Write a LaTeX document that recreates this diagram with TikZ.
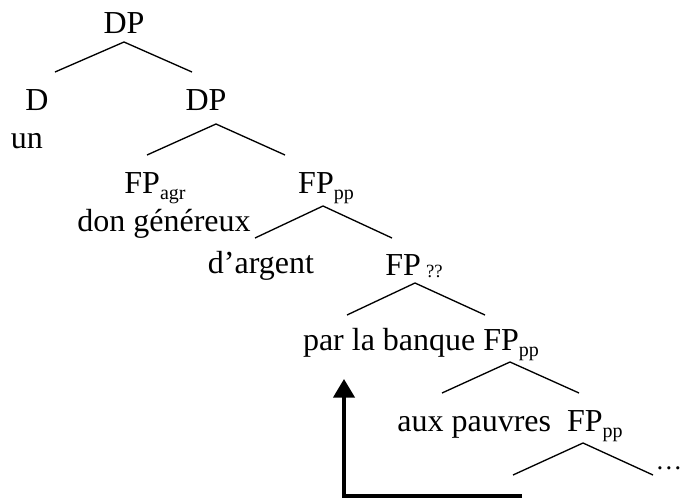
\documentclass[tikz,border=0pt]{standalone}
\usepackage{fontspec}
\setmainfont{Liberation Serif}
\usetikzlibrary{arrows.meta}

\newcommand{\fsub}[1]{\raisebox{-5pt}{\fontsize{15}{15}\selectfont #1}}

\begin{document}
\begin{tikzpicture}[x=0.75pt,y=-0.75pt,line width=1pt,
    word/.style={anchor=base,inner sep=0pt,font=\fontsize{24}{28}\selectfont},
    move/.style={line width=2.4pt,-{Triangle[width=16pt,length=14pt]}}]
    \useasboundingbox (0,0) rectangle (681,500);

    % labels
    \node[word] (dp1) at (124,33) {DP};
    \node[word] (d) at (37,110) {D};
    \node[word] (dp2) at (206,110) {DP};
    \node[word] (un) at (27,148) {un};
    \node[word] (agr) at (155,193) {FP\fsub{agr}};
    \node[word] (don) at (164,231) {don généreux};
    \node[word] (pp1) at (326,193) {FP\fsub{pp}};
    \node[word] (arg) at (261,273) {d’argent};
    \node[word] (fpq) at (414,275) {FP\hspace{4pt}\raisebox{-2pt}{\fontsize{14}{14}\selectfont ??}};
    \node[word] (bq) at (421,350) {par la banque FP\fsub{pp}};
    \node[word] (aux) at (510,431) {aux pauvres\ \ FP\fsub{pp}};
    \node[word,anchor=base west,font=\fontsize{20}{24}\selectfont] (dots) at (655,469) {\ldots};

    % branch points
    \coordinate (t1) at (124,42);  \coordinate (l1) at (55,72);   \coordinate (r1) at (192,72);
    \coordinate (t2) at (216,124); \coordinate (l2) at (147,155); \coordinate (r2) at (285,155);
    \coordinate (t3) at (323,206); \coordinate (l3) at (255,238); \coordinate (r3) at (392,238);
    \coordinate (t4) at (415,283); \coordinate (l4) at (347,315); \coordinate (r4) at (485,315);
    \coordinate (t5) at (510,362); \coordinate (l5) at (442,393); \coordinate (r5) at (579,393);
    \coordinate (t6) at (583,443); \coordinate (l6) at (513,475); \coordinate (r6) at (653,475);

    \foreach \i in {1,...,6}
        \draw (l\i) -- (t\i) -- (r\i);

    % movement
    \coordinate (m0) at (522,496);
    \coordinate (m1) at (344,496);
    \coordinate (m2) at (344,379);
    \draw[move] (m0) -- (m1) -- (m2);
\end{tikzpicture}
\end{document}
